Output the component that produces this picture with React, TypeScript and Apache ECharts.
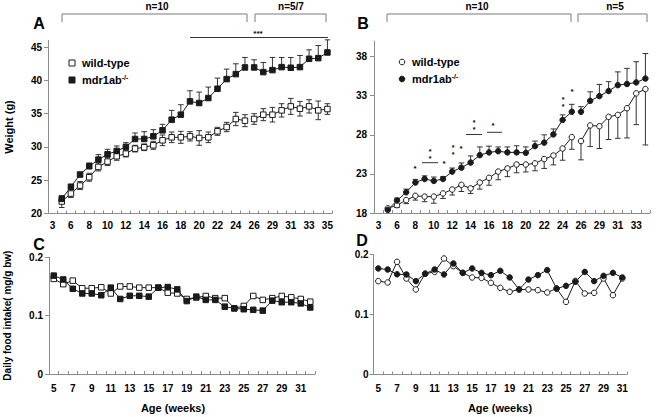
import React, { useEffect, useRef } from "react";
import * as echarts from "echarts";

// ---------- DATA ----------
const weeksAB = ["3","5","6","7","8","9","10","11","12","13","14","15","16","17","18","19","20","21","22","23","24","25","26","27","29","30","31","32","33","34","35"];
const weeksC = ["5","6","7","8","9","10","11","12","13","14","15","16","17","18","19","20","21","22","23","24","25","26","27","28","29","30","31","32"];
const weeksD = ["5","6","7","8","9","10","11","12","13","14","15","16","17","18","19","20","21","22","23","24","25","26","27","28","29","30","31"];

// Panel A (weight, male) index 1..30
const aKo = [22.2, 24.0, 25.85, 27.1, 28.1, 28.9, 29.4, 30.0, 31.2, 31.2, 31.6, 32.5, 34.1, 34.85, 36.85, 36.6, 37.35, 38.75, 40.2, 40.95, 41.95, 41.95, 41.25, 41.55, 42.0, 41.9, 42.0, 43.25, 43.35, 44.2];
const aKoErr = [0.3, 0.4, 0.35, 0.5, 0.75, 0.75, 0.75, 0.65, 0.9, 1.1, 1.0, 0.9, 1.4, 1.5, 1.6, 1.65, 1.65, 1.6, 1.5, 1.55, 1.5, 1.15, 1.45, 1.9, 1.45, 1.55, 1.75, 1.35, 1.9, 1.9];
const aWt = [21.8, 23.0, 24.2, 25.45, 27.0, 27.8, 28.6, 29.0, 29.75, 29.95, 30.25, 31.0, 31.45, 31.45, 31.6, 31.35, 31.45, 32.35, 33.0, 34.2, 33.95, 34.2, 34.85, 34.85, 35.5, 36.1, 35.75, 36.1, 35.5, 35.7];
const aWtErr = [0.9, 0.6, 0.6, 0.6, 0.6, 0.6, 0.6, 0.5, 0.5, 0.5, 0.6, 0.8, 0.8, 0.9, 0.7, 1.1, 0.8, 0.6, 0.7, 1.0, 0.9, 0.8, 0.9, 1.1, 1.0, 1.2, 1.1, 1.0, 1.4, 0.8];

// Panel B (weight, female) index 1..29
const bKo = [18.4, 19.6, 20.65, 21.9, 22.35, 22.1, 22.35, 23.3, 23.8, 24.45, 25.4, 25.75, 25.9, 25.75, 25.75, 25.7, 26.55, 27.0, 28.05, 29.9, 30.95, 30.95, 32.35, 32.95, 33.6, 34.35, 34.5, 34.7, 35.2];
const bKoErr = [0.2, 0.3, 0.4, 0.4, 0.4, 0.5, 0.3, 0.45, 0.6, 0.85, 1.05, 0.8, 0.55, 0.7, 0.85, 0.75, 0.65, 1.0, 0.7, 0.65, 0.95, 0.65, 1.15, 1.5, 1.2, 1.7, 2.0, 2.65, 3.2];
const bWt = [18.6, 19.0, 19.65, 20.2, 20.1, 20.1, 20.5, 21.0, 21.6, 21.15, 21.9, 22.5, 23.3, 23.7, 24.2, 24.2, 24.35, 24.9, 25.35, 26.25, 27.7, 27.2, 29.2, 29.1, 30.3, 30.55, 31.4, 33.3, 33.85];
const bWtErr = [0.3, 0.3, 0.45, 0.55, 0.65, 0.85, 0.65, 0.7, 0.85, 0.65, 0.85, 0.95, 1.05, 1.05, 1.05, 0.95, 0.95, 1.2, 1.2, 1.5, 1.55, 2.4, 2.7, 2.85, 2.9, 3.0, 3.8, 4.0, 7.15];

// Panel C (food intake, male)
const cKo = [0.1686, 0.162, 0.146, 0.138, 0.138, 0.135, 0.148, 0.1286, 0.134, 0.134, 0.1326, 0.148, 0.149, 0.145, 0.125, 0.1326, 0.127, 0.127, 0.1154, 0.1126, 0.111, 0.110, 0.1086, 0.1257, 0.123, 0.123, 0.121, 0.114];
const cWt = [0.163, 0.154, 0.160, 0.147, 0.147, 0.1486, 0.138, 0.150, 0.150, 0.148, 0.148, 0.148, 0.1394, 0.138, 0.1286, 0.131, 0.1337, 0.130, 0.130, 0.1126, 0.1166, 0.1337, 0.127, 0.130, 0.1337, 0.1314, 0.1286, 0.124];

// Panel D (food intake, female)
const dKo = [0.1767, 0.175, 0.167, 0.1667, 0.1556, 0.168, 0.175, 0.1667, 0.185, 0.1694, 0.1767, 0.1694, 0.1656, 0.1728, 0.1617, 0.1417, 0.1583, 0.1656, 0.174, 0.1433, 0.1478, 0.1544, 0.171, 0.1556, 0.1644, 0.1694, 0.1617];
const dWt = [0.1556, 0.1533, 0.1878, 0.16, 0.1417, 0.168, 0.171, 0.1933, 0.1806, 0.1694, 0.1617, 0.161, 0.1528, 0.1444, 0.1378, 0.1417, 0.1417, 0.1406, 0.1367, 0.1433, 0.1211, 0.156, 0.135, 0.1361, 0.16, 0.1322, 0.16];

const breakIndex = 21; // last index of the n=10 segment
const yTicksA = [20, 25, 30, 35, 40, 45];
const yTicksB = [18, 23, 28, 33, 38];

// ---------- helpers ----------
const FONT = "'Liberation Sans', Arial, sans-serif";
const INK = "#1a1a1a";
const AXIS = "#8c8c8c";

function segment(values: number[], part: 0 | 1) {
  const out: (number | null)[] = [null];
  values.forEach((v, i) => {
    const idx = i + 1;
    const inFirst = idx <= breakIndex;
    out.push(part === 0 ? (inFirst ? v : null) : inFirst ? null : v);
  });
  return out;
}

function lineSeries(axis: number, data: (number | null)[], symbol: string, filled: boolean, size = 5.5) {
  return {
    type: "line",
    xAxisIndex: axis,
    yAxisIndex: axis,
    data,
    symbol,
    symbolSize: size,
    showSymbol: true,
    connectNulls: false,
    z: 3,
    lineStyle: { color: INK, width: 1 },
    itemStyle: filled
      ? { color: INK, borderColor: INK, borderWidth: 1 }
      : { color: "#ffffff", borderColor: INK, borderWidth: 1 },
    emphasis: { disabled: true },
    silent: true,
  };
}

function errSeries(axis: number, values: number[], ups: number[], downs: number[]) {
  const data = values.map((v, i) => [i + 1, v, ups[i], downs[i]]);
  return {
    type: "custom",
    xAxisIndex: axis,
    yAxisIndex: axis,
    data,
    z: 2,
    silent: true,
    encode: { x: 0, y: 1 },
    renderItem: (_p: any, api: any) => {
      const x = api.value(0);
      const y = api.value(1);
      const up = api.value(2);
      const dn = api.value(3);
      const p = api.coord([x, y]);
      const st = { stroke: "#333", lineWidth: 1 };
      const w = 2.8;
      const ch: any[] = [];
      if (up > 0) {
        const q = api.coord([x, y + up]);
        ch.push({ type: "line", shape: { x1: p[0], y1: p[1], x2: q[0], y2: q[1] }, style: st });
        ch.push({ type: "line", shape: { x1: q[0] - w, y1: q[1], x2: q[0] + w, y2: q[1] }, style: st });
      }
      if (dn > 0) {
        const q = api.coord([x, y - dn]);
        ch.push({ type: "line", shape: { x1: p[0], y1: p[1], x2: q[0], y2: q[1] }, style: st });
        ch.push({ type: "line", shape: { x1: q[0] - w, y1: q[1], x2: q[0] + w, y2: q[1] }, style: st });
      }
      return { type: "group", children: ch };
    },
  };
}

const zeros = (n: number) => new Array(n).fill(0);

function xAxis(grid: number, cats: string[], margin: number) {
  return {
    type: "category",
    gridIndex: grid,
    data: cats,
    boundaryGap: true,
    axisLine: { lineStyle: { color: AXIS, width: 1 } },
    axisTick: { show: true, inside: true, length: 3, interval: 0, lineStyle: { color: AXIS } },
    axisLabel: { interval: 1, color: "#000", fontSize: 10, fontWeight: "bold", fontFamily: FONT, margin },
    splitLine: { show: false },
  };
}

function yAxis(grid: number, min: number, max: number, ticks: number[], margin: number, extra: any = {}) {
  return {
    type: "value",
    gridIndex: grid,
    min,
    max,
    axisLine: { show: true, lineStyle: { color: AXIS, width: 1 } },
    axisTick: { show: true, length: 4, lineStyle: { color: AXIS }, customValues: ticks },
    axisLabel: { color: "#000", fontSize: 10, fontWeight: "bold", fontFamily: FONT, margin, customValues: ticks },
    splitLine: { show: false },
    ...extra,
  };
}

function txt(x: number, y: number, text: string, size: number, opts: any = {}) {
  return {
    type: "text",
    x,
    y,
    silent: true,
    style: {
      text,
      fill: "#000",
      font: `bold ${size}px ${FONT}`,
      textAlign: opts.align || "center",
      textVerticalAlign: "middle",
      ...(opts.style || {}),
    },
  };
}

function ln(x1: number, y1: number, x2: number, y2: number, color = "#7a7a7a") {
  return { type: "line", silent: true, shape: { x1, y1, x2, y2 }, style: { stroke: color, lineWidth: 1 } };
}

function bracket(x1: number, x2: number) {
  return [ln(x1, 14, x2, 14), ln(x1, 14, x1, 22), ln(x2, 14, x2, 22)];
}

// two stacked asterisks as one text
function stars2(x: number, y: number) {
  return txt(x, y, "*\n*", 7, { style: { lineHeight: 7 } });
}

function legend(x: number, y: number, circle: boolean) {
  const els: any[] = [];
  const mk = (cy: number, filled: boolean) =>
    circle
      ? { type: "circle", silent: true, shape: { cx: x, cy, r: 2.8 }, style: { fill: filled ? INK : "#fff", stroke: INK, lineWidth: 1 } }
      : { type: "rect", silent: true, shape: { x: x - 3, y: cy - 3, width: 6, height: 6 }, style: { fill: filled ? INK : "#fff", stroke: INK, lineWidth: 1 } };
  els.push(mk(y, false));
  els.push(txt(x + 10, y, "wild-type", 11, { align: "left" }));
  els.push(mk(y + 17, true));
  els.push({
    type: "text",
    x: x + 10,
    y: y + 17,
    silent: true,
    style: {
      text: "mdr1ab{s|-/-}",
      fill: "#000",
      font: `bold 11px ${FONT}`,
      textAlign: "left",
      textVerticalAlign: "middle",
      rich: {
        s: { fontSize: 7, fontWeight: "bold", fontFamily: FONT, verticalAlign: "top", lineHeight: 13, fill: "#000" },
      },
    },
  });
  return els;
}

export default function App() {
  const ref = useRef<HTMLDivElement>(null);
  useEffect(() => {
    document.body.style.margin = "0";
    if (!ref.current) return;
    const chart = echarts.init(ref.current, null, { renderer: "svg" });

    const graphic: any[] = [
      txt(39, 23.5, "A", 16),
      txt(363, 23.5, "B", 16),
      txt(39, 244, "C", 16),
      txt(362, 240, "D", 16),
      // brackets A
      ...bracket(62, 247),
      ...bracket(255, 326),
      txt(157, 6.5, "n=10", 10),
      txt(291, 6.5, "n=5/7", 10),
      ln(190, 37.5, 328, 37.5, "#333"),
      txt(258, 33, "***", 8),
      // brackets B
      ...bracket(387, 571),
      ...bracket(578, 647),
      txt(477, 6.5, "n=10", 10),
      txt(615, 6.5, "n=5", 10),
      // significance marks B
      txt(415, 168, "*", 8),
      ln(422, 162.7, 438, 162.7, "#333"),
      stars2(430, 155),
      txt(444, 163, "*", 8),
      stars2(453, 151),
      txt(461, 148, "*", 8),
      ln(466, 134.5, 482, 134.5, "#333"),
      stars2(474, 126),
      ln(487, 132.3, 502, 132.3, "#333"),
      txt(493, 125, "*", 8),
      stars2(563, 103),
      txt(572, 91, "*", 8),
      // legends
      ...legend(72, 63, false),
      ...legend(402, 62, true),
      // x axis titles
      txt(173, 408, "Age (weeks)", 11),
      txt(500, 408, "Age (weeks)", 11),
    ];

    chart.setOption({
      animation: false,
      grid: [
        { left: 48, top: 40.5, width: 284, height: 173 },
        { left: 374, top: 41, width: 276, height: 172 },
        { left: 49, top: 257.3, width: 266, height: 116.7 },
        { left: 373.6, top: 254.5, width: 253.4, height: 120 },
      ],
      xAxis: [
        xAxis(0, weeksAB, 7),
        xAxis(1, weeksAB.slice(0, 30), 7),
        xAxis(2, weeksC, 9),
        xAxis(3, weeksD, 9),
      ],
      yAxis: [
        yAxis(0, 20, 46, yTicksA, 6, {
          name: "Weight (g)",
          nameLocation: "middle",
          nameRotate: 90,
          nameGap: 34,
          nameTextStyle: { fontSize: 11, fontWeight: "bold", fontFamily: FONT, color: "#000" },
        }),
        yAxis(1, 18, 40, yTicksB, 7),
        yAxis(2, 0, 0.2, [0, 0.1, 0.2], 6, {
          name: "Daily food intake( mg/g bw)",
          nameLocation: "middle",
          nameRotate: 90,
          nameGap: 37,
          nameTextStyle: { fontSize: 10, fontWeight: "bold", fontFamily: FONT, color: "#000" },
        }),
        yAxis(3, 0, 0.2, [0, 0.1, 0.2], 5),
      ],
      series: [
        errSeries(0, aWt, aWtErr, aWtErr),
        errSeries(0, aKo, aKoErr, zeros(aKo.length)),
        lineSeries(0, segment(aWt, 0), "rect", false),
        lineSeries(0, segment(aWt, 1), "rect", false),
        lineSeries(0, segment(aKo, 0), "rect", true),
        lineSeries(0, segment(aKo, 1), "rect", true),

        errSeries(1, bWt, zeros(bWt.length), bWtErr),
        errSeries(1, bKo, bKoErr, zeros(bKo.length)),
        lineSeries(1, segment(bWt, 0), "circle", false),
        lineSeries(1, segment(bWt, 1), "circle", false),
        lineSeries(1, segment(bKo, 0), "circle", true),
        lineSeries(1, segment(bKo, 1), "circle", true),

        lineSeries(2, cWt, "rect", false),
        lineSeries(2, cKo, "rect", true),

        lineSeries(3, dWt, "circle", false, 5.5),
        lineSeries(3, dKo, "circle", true, 5.5),
      ],
      graphic,
    });
    return () => chart.dispose();
  }, []);
  return <div ref={ref} style={{ width: 661, height: 417 }} />;
}
